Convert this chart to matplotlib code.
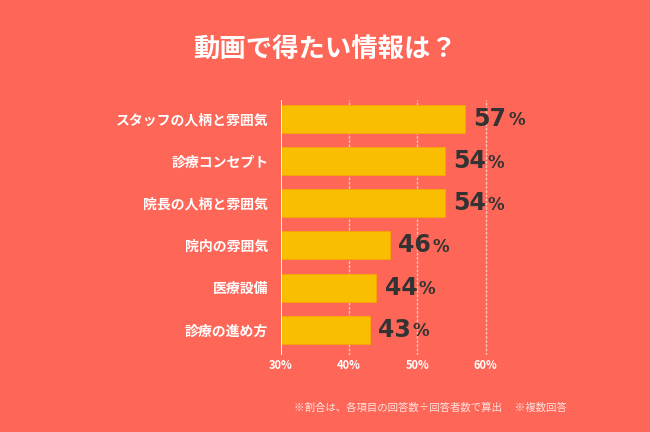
import matplotlib.pyplot as plt

plt.rcParams['font.family'] = ['Noto Sans CJK JP', 'DejaVu Sans']

categories = ['スタッフの人柄と雰囲気', '診療コンセプト', '院長の人柄と雰囲気',
              '院内の雰囲気', '医療設備', '診療の進め方']
values = [57, 54, 54, 46, 44, 43]
xticks = [30, 40, 50, 60]
xtick_labels = ['30%', '40%', '50%', '60%']

bg = '#FE6658'
bar_color = '#F9BE00'

fig = plt.figure(figsize=(6.5, 4.32), dpi=100, facecolor=bg)
ax = fig.add_axes([0.432, 0.178, 0.368, 0.591])
ax.set_facecolor(bg)

ypos = list(range(len(categories)))
ax.barh(ypos, [v - 30 for v in values], left=30, height=0.66,
        color=bar_color, edgecolor='#F5A800', linewidth=0.6, zorder=3)

ax.set_xlim(30, 65)
ax.set_ylim(5.6, -0.45)

for x in xticks[1:]:
    ax.axvline(x, color='#FFC2B8', linewidth=1, linestyle=(0, (2, 1)), zorder=1)
ax.axvline(30, color='white', linewidth=1.3, zorder=4)

for s in ax.spines.values():
    s.set_visible(False)

ax.set_yticks(ypos)
ax.set_yticklabels(categories, color='white', fontsize=10, fontweight='bold')
ax.tick_params(axis='y', length=0, pad=9)
ax.set_xticks(xticks)
ax.set_xticklabels(xtick_labels, color='white', fontsize=8, fontweight='bold')
ax.tick_params(axis='x', length=0, pad=3)

for y, v in zip(ypos, values):
    t = ax.annotate(str(v), xy=(v, y), xytext=(6, 0), textcoords='offset points',
                    va='center', ha='left', fontsize=17, fontweight='bold',
                    color='#333333', family='DejaVu Sans')
    ax.annotate('%', xy=(1, 0), xycoords=t, xytext=(1, 1), textcoords='offset points',
                va='bottom', ha='left', fontsize=12, fontweight='bold',
                color='#333333', family='DejaVu Sans')

fig.text(0.5, 0.884, '動画で得たい情報は？', ha='center', va='center',
         color='white', fontsize=19, fontweight='bold')
fig.text(0.872, 0.056, '※割合は、各項目の回答数÷回答者数で算出　 ※複数回答',
         ha='right', va='center', color='#FFE3DE', fontsize=7.5,
         family=['Noto Sans CJK JP', 'DejaVu Sans'])

fig.savefig('out.png', dpi=100, facecolor=bg)
